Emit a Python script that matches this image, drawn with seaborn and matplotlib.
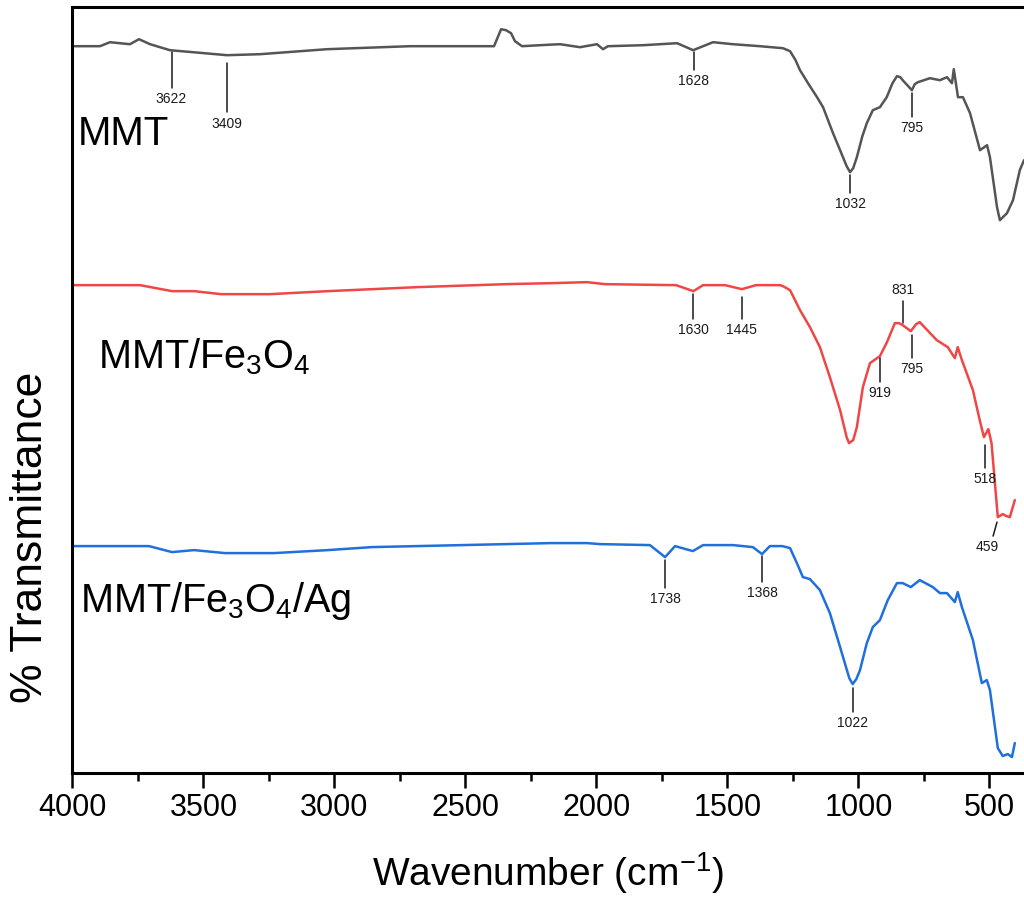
import numpy as np
import pandas as pd
import seaborn as sns
import matplotlib.pyplot as plt
import matplotlib.ticker as ticker

# FTIR spectra (wavenumber in cm-1, transmittance in arbitrary offset units)
mmt_wn = [4000, 3895, 3857, 3781, 3746, 3704, 3628, 3540, 3410, 3284, 3029, 2712,
          2444, 2391, 2364, 2345, 2326, 2311, 2284, 2216, 2139, 2063, 1998, 1975,
          1956, 1822, 1692, 1631, 1555, 1479, 1376, 1288, 1261, 1240, 1223, 1190, 1158, 1135,
          1097, 1070, 1045, 1032, 1020, 1006, 985, 968, 945, 918, 892, 870, 853, 840, 831, 796,
          785, 773, 727, 689, 662, 643, 636, 620, 601, 574, 536, 509, 498, 471, 460, 433,
          410, 384, 368]
mmt_t = [72.7, 72.7, 73.1, 72.9, 73.4, 72.9, 72.3, 72.1, 71.8, 71.9, 72.4, 72.7,
         72.7, 72.7, 74.4, 74.3, 74.0, 73.2, 72.7, 72.8, 72.9, 72.6, 72.9, 72.4,
         72.7, 72.8, 73.0, 72.3, 73.1, 72.9, 72.7, 72.5, 72.2, 71.3, 70.3, 68.9, 67.6, 66.6,
         64.0, 62.3, 60.7, 60.1, 60.5, 61.6, 63.7, 65.0, 66.3, 66.6, 67.6, 69.0, 69.7, 69.6, 69.3, 68.3,
         68.9, 69.1, 69.5, 69.3, 69.6, 69.0, 70.4, 67.6, 67.6, 66.0, 62.3, 62.8, 61.6, 56.6, 55.3, 56.0,
         57.3, 60.3, 61.3]

fe_wn = [4000, 3742, 3620, 3536, 3433, 3246, 3025, 2685, 2345, 2173, 2036, 1967,
         1696, 1630, 1593, 1509, 1445, 1391, 1300, 1288, 1261, 1223, 1185, 1147, 1109,
         1070, 1045, 1036, 1020, 1006, 983, 956, 918, 891, 861, 845, 831, 800, 780, 766, 701, 659, 632,
         621, 605, 563, 537, 521, 504, 492, 468, 449, 435, 422, 403]
fe_t = [48.8, 48.8, 48.2, 48.2, 47.9, 47.9, 48.2, 48.6, 48.9, 49.0, 49.1, 48.9,
        48.8, 48.2, 48.8, 48.8, 48.4, 48.8, 48.8, 48.7, 48.3, 46.3, 44.6, 42.6, 39.6,
        36.3, 33.6, 33.0, 33.3, 34.6, 38.6, 41.0, 41.7, 43.1, 45.0, 45.0, 44.8, 44.2, 44.9, 45.1, 43.3, 42.6, 41.5,
        42.6, 41.3, 38.3, 35.3, 33.6, 34.4, 33.0, 25.6, 25.9, 25.7, 25.6, 27.3]

ag_wn = [4000, 3708, 3620, 3536, 3418, 3231, 3025, 2857, 2513, 2173, 2036, 1987,
         1796, 1738, 1700, 1632, 1593, 1479, 1403, 1368, 1338, 1290, 1261, 1235, 1212,
         1185, 1147, 1109, 1070, 1035, 1022, 1008, 994, 968, 945, 918, 888, 853, 831, 800, 766,
         716, 689, 662, 632, 621, 605, 563, 529, 510, 498, 468, 449, 430, 414, 403]
ag_t = [22.7, 22.7, 22.1, 22.3, 22.0, 22.0, 22.3, 22.6, 22.8, 23.0, 23.0, 22.9,
        22.8, 21.6, 22.7, 22.2, 22.8, 22.8, 22.6, 21.9, 22.7, 22.7, 22.5, 21.0, 19.6,
        19.4, 18.3, 16.0, 12.6, 9.5, 8.9, 9.4, 10.3, 13.0, 14.6, 15.3, 17.3, 19.0, 19.0, 18.6, 19.3,
        18.6, 18.0, 18.0, 17.1, 18.1, 16.6, 13.3, 9.0, 9.3, 8.3, 2.5, 1.7, 1.9, 1.6, 3.0]

samples = ['MMT', 'MMT/Fe$_3$O$_4$', 'MMT/Fe$_3$O$_4$/Ag']
colors = ['#555555', '#f04646', '#1f6fdd']

# peak marks: label, line x0, y0, line x1, y1, text x, text y, vertical alignment
peak_marks = [
    ('3622', 3622, 72.1, 3622, 68.5, 3622, 68.1, 'top'),
    ('3409', 3409, 71.0, 3409, 66.1, 3409, 65.6, 'top'),
    ('1628', 1628, 72.1, 1628, 70.3, 1628, 69.9, 'top'),
    ('1032', 1032, 59.8, 1032, 58.0, 1032, 57.6, 'top'),
    ('795', 795, 68.0, 795, 65.6, 795, 65.2, 'top'),
    ('1630', 1630, 47.9, 1630, 45.4, 1630, 45.0, 'top'),
    ('1445', 1445, 47.6, 1445, 45.4, 1445, 45.0, 'top'),
    ('831', 831, 47.2, 831, 45.0, 831, 47.6, 'bottom'),
    ('919', 919, 41.5, 919, 39.1, 919, 38.7, 'top'),
    ('795', 795, 43.8, 795, 41.5, 795, 41.1, 'top'),
    ('518', 518, 32.8, 518, 30.5, 518, 30.1, 'top'),
    ('459', 471, 25.1, 486, 23.7, 509, 23.3, 'top'),
    ('1738', 1738, 21.3, 1738, 18.5, 1738, 18.1, 'top'),
    ('1368', 1368, 21.7, 1368, 19.1, 1368, 18.7, 'top'),
    ('1022', 1022, 8.5, 1022, 6.1, 1022, 5.7, 'top'),
]

sns.set_style('ticks')
plt.rcParams['font.family'] = ['Liberation Sans', 'DejaVu Sans']
plt.rcParams['mathtext.fontset'] = 'custom'
plt.rcParams['mathtext.rm'] = 'Liberation Sans'
plt.rcParams['mathtext.default'] = 'regular'
plt.rcParams['text.color'] = 'black'
plt.rcParams['axes.labelcolor'] = 'black'
plt.rcParams['xtick.color'] = 'black'

df = pd.concat([
    pd.DataFrame({'wavenumber': mmt_wn, 'T': mmt_t, 'sample': samples[0]}),
    pd.DataFrame({'wavenumber': fe_wn, 'T': fe_t, 'sample': samples[1]}),
    pd.DataFrame({'wavenumber': ag_wn, 'T': ag_t, 'sample': samples[2]}),
], ignore_index=True)

fig = plt.figure(figsize=(10.24, 9.01), dpi=100)
ax = fig.add_axes([0.0708, 0.142, 0.9292, 0.850])

sns.lineplot(data=df, x='wavenumber', y='T', hue='sample', hue_order=samples,
             palette=colors, estimator=None, sort=False, linewidth=1.8,
             legend=False, ax=ax)

for lab, x0, y0, x1, y1, tx, ty, va in peak_marks:
    ax.plot([x0, x1], [y0, y1], color='#1a1a1a', lw=1.1)
    ax.text(tx, ty, lab, ha='center', va=va, fontsize=10, color='#1a1a1a')

# sample names
ax.text(3979, 62.8, samples[0], fontsize=29, ha='left', va='baseline')
ax.text(3903, 40.5, samples[1], fontsize=28.5, ha='left', va='baseline')
ax.text(3971, 16.1, samples[2], fontsize=28.5, ha='left', va='baseline')

ax.set_xlim(4000, 368)
ax.set_ylim(0, 76.6)
ax.xaxis.set_major_locator(ticker.MultipleLocator(500))
ax.xaxis.set_minor_locator(ticker.MultipleLocator(250))
ax.set_yticks([])
ax.spines['right'].set_visible(False)
for s in ['left', 'bottom', 'top']:
    ax.spines[s].set_linewidth(2.2)
    ax.spines[s].set_color('black')
ax.tick_params(axis='x', which='major', direction='out', length=11, width=1.8,
               labelsize=22, pad=3, top=False)
ax.tick_params(axis='x', which='minor', direction='out', length=6, width=1.8, top=False)

ax.set_xlabel('Wavenumber (cm$^{-1}$)', fontsize=28, labelpad=20)
ax.set_ylabel('% Transmittance', fontsize=32)
ax.yaxis.set_label_coords(-0.023, 0.308)

fig.savefig('out.png', dpi=100)
